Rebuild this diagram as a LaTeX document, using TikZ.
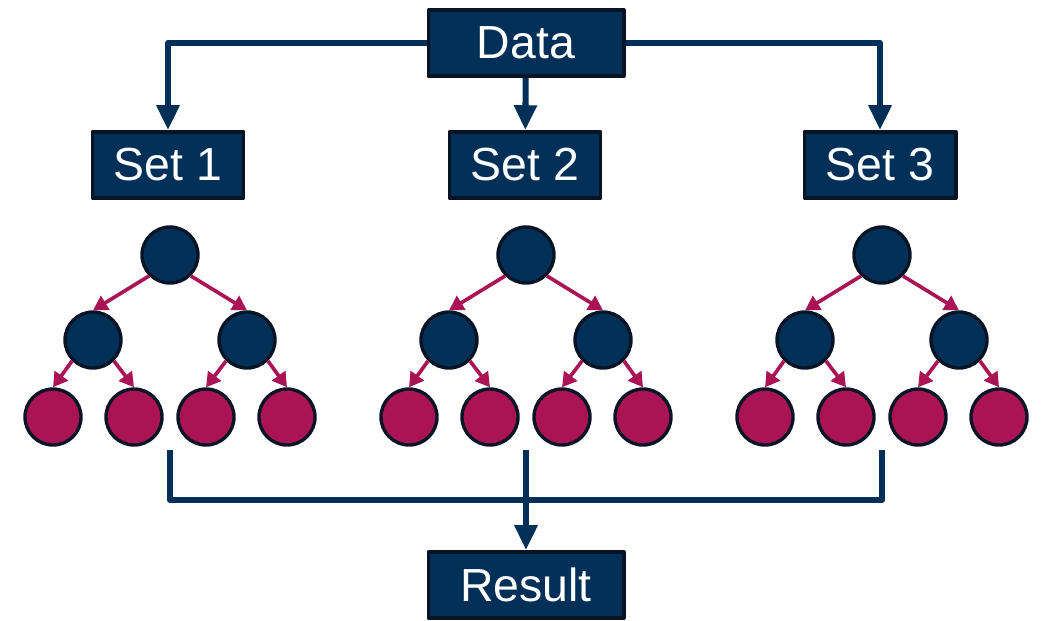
\documentclass[tikz,border=0pt]{standalone}
\usepackage{fontspec}
\setmainfont{Liberation Sans}
\usetikzlibrary{arrows.meta,positioning}
\definecolor{navy}{RGB}{0,48,87}
\definecolor{edge}{RGB}{8,20,38}
\definecolor{berry}{RGB}{170,20,85}
\begin{document}
\begin{tikzpicture}[x=0.025cm,y=-0.025cm,line join=round,
				box node/.style = {rectangle,draw=edge,fill=navy,line width=2.8pt,text=white,
					font=\fontsize{33}{40}\selectfont,minimum height=1.65cm,inner sep=0pt},
				inner node/.style = {circle,draw=edge,fill=navy,line width=2.4pt,minimum size=1.4cm,inner sep=0pt},
				leaf node/.style = {circle,draw=edge,fill=berry,line width=2.4pt,minimum size=1.4cm,inner sep=0pt},
				flow/.style = {draw=navy,line width=4.3pt,-{Triangle[width=0.55cm,length=0.62cm]}},
				split/.style = {draw=berry,line width=2.6pt,-{Triangle[width=0.4cm,length=0.36cm]}}]
				
				\useasboundingbox (0,0) rectangle (1043,620);
				
				\node[box node,minimum width=4.875cm] (data) at (526,43) {Data};
				\node[box node,minimum width=3.775cm] (s1) at (168,165) {Set 1};
				\node[box node,minimum width=3.775cm] (s2) at (525,165) {Set 2};
				\node[box node,minimum width=3.775cm] (s3) at (880,165) {Set 3};
				\node[box node,minimum width=4.875cm] (res) at (526,585) {Result};
				
				\draw[flow] (data) -| (s1);
				\draw[flow] (data) -| (s3);
				\path (data) edge[flow] (s2);
				
				% tree 1
				\node[inner node] (r1) at (170,255) {};
				\node[inner node] (a1) at (93,340) {};
				\node[inner node] (b1) at (247,340) {};
				\node[leaf node] (l11) at (53,417) {};
				\node[leaf node] (l12) at (134,417) {};
				\node[leaf node] (l13) at (206,417) {};
				\node[leaf node] (l14) at (287,417) {};
				
				% tree 2
				\node[inner node] (r2) at (526,255) {};
				\node[inner node] (a2) at (449,340) {};
				\node[inner node] (b2) at (603,340) {};
				\node[leaf node] (l21) at (409,417) {};
				\node[leaf node] (l22) at (490,417) {};
				\node[leaf node] (l23) at (562,417) {};
				\node[leaf node] (l24) at (643,417) {};
				
				% tree 3
				\node[inner node] (r3) at (882,255) {};
				\node[inner node] (a3) at (805,340) {};
				\node[inner node] (b3) at (959,340) {};
				\node[leaf node] (l31) at (765,417) {};
				\node[leaf node] (l32) at (846,417) {};
				\node[leaf node] (l33) at (918,417) {};
				\node[leaf node] (l34) at (999,417) {};
				
				\path (r1.south west) edge[split] (a1.north);
				\path (r1.south east) edge[split] (b1.north);
				\path (a1.south west) edge[split] (l11.north);
				\path (a1.south east) edge[split] (l12.north);
				\path (b1.south west) edge[split] (l13.north);
				\path (b1.south east) edge[split] (l14.north);
				
				\path (r2.south west) edge[split] (a2.north);
				\path (r2.south east) edge[split] (b2.north);
				\path (a2.south west) edge[split] (l21.north);
				\path (a2.south east) edge[split] (l22.north);
				\path (b2.south west) edge[split] (l23.north);
				\path (b2.south east) edge[split] (l24.north);
				
				\path (r3.south west) edge[split] (a3.north);
				\path (r3.south east) edge[split] (b3.north);
				\path (a3.south west) edge[split] (l31.north);
				\path (a3.south east) edge[split] (l32.north);
				\path (b3.south west) edge[split] (l33.north);
				\path (b3.south east) edge[split] (l34.north);
				
				% joining the three results
				\coordinate (j1) at (170,450);
				\coordinate (j2) at (526,450);
				\coordinate (j3) at (882,450);
				\draw[navy,line width=4.3pt] (j1) -- ++(0,50) -| (j3);
				\path (j2) edge[flow] (res);
				
				\end{tikzpicture}
\end{document}
